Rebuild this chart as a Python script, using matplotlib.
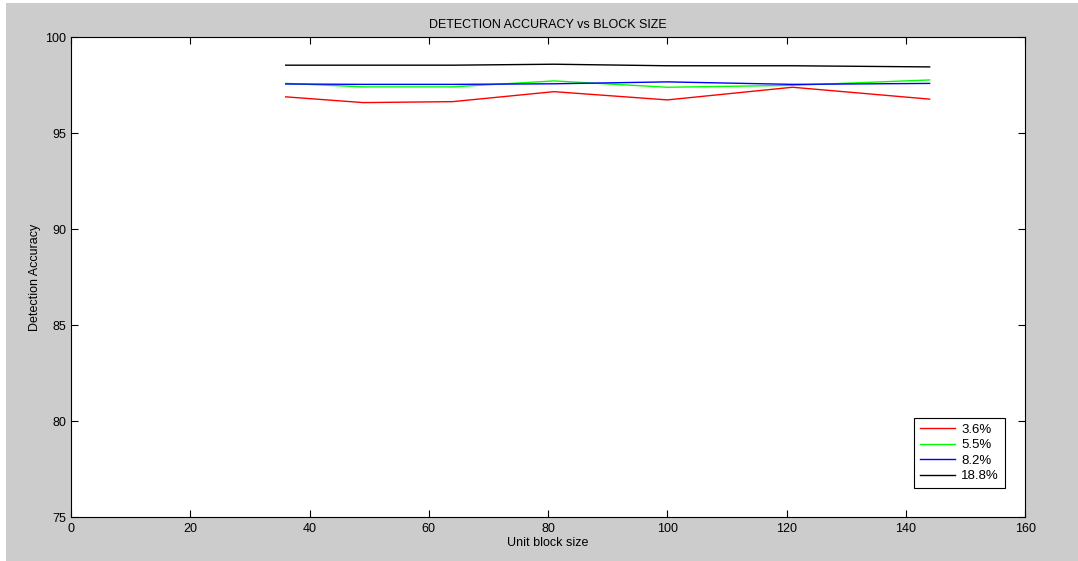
#!/usr/bin/env python3
"""Detection accuracy against unit block size for four embedding rates."""

import matplotlib
matplotlib.use("Agg")
import matplotlib.pyplot as plt
from matplotlib.patches import Rectangle

# Unit block sizes (square blocks: 6x6 ... 12x12)
block_size = [36, 49, 64, 81, 100, 121, 144]

# Detection accuracy (%) for each embedding rate
acc_3_6 = [96.90, 96.60, 96.65, 97.17, 96.74, 97.40, 96.78]
acc_5_5 = [97.60, 97.42, 97.42, 97.73, 97.40, 97.50, 97.78]
acc_8_2 = [97.57, 97.55, 97.55, 97.58, 97.68, 97.55, 97.60]
acc_18_8 = [98.55, 98.55, 98.55, 98.60, 98.52, 98.52, 98.46]

series_labels = ["3.6%", "5.5%", "8.2%", "18.8%"]
series_colors = ["#ff0000", "#00ff00", "#0000ff", "#000000"]

x_ticks = [0, 20, 40, 60, 80, 100, 120, 140, 160]
y_ticks = [75, 80, 85, 90, 95, 100]


def main() -> None:
    plt.rcParams["font.family"] = ["Liberation Sans", "DejaVu Sans"]
    plt.rcParams["font.size"] = 8.5

    fig = plt.figure(figsize=(10.78, 5.61), dpi=100, facecolor="white")
    # grey figure window, thin white margin on the left and top
    fig.patches.append(Rectangle((6 / 1078, -0.01), 1, 1.01 - 3 / 561,
                                 transform=fig.transFigure, facecolor="#cccccc",
                                 edgecolor="none", zorder=-10))
    ax = fig.add_axes([0.0659, 0.0784, 0.885, 0.855])
    ax.set_facecolor("white")

    for ys, lab, col in zip([acc_3_6, acc_5_5, acc_8_2, acc_18_8],
                            series_labels, series_colors):
        ax.plot(block_size, ys, color=col, lw=1.0, label=lab)

    ax.set_xlim(0, 160)
    ax.set_ylim(75, 100)
    ax.set_xticks(x_ticks)
    ax.set_yticks(y_ticks)
    ax.tick_params(direction="in", top=True, right=True, length=5, width=0.8,
                   labelsize=9, colors="black")
    ax.tick_params(axis="x", pad=4)
    for sp in ax.spines.values():
        sp.set_linewidth(0.8)

    ax.set_title("DETECTION ACCURACY vs BLOCK SIZE", fontsize=9, pad=7)
    ax.set_xlabel("Unit block size", fontsize=9, labelpad=2)
    ax.set_ylabel("Detection Accuracy", fontsize=9, labelpad=3)

    leg = ax.legend(loc="lower right", bbox_to_anchor=(0.979, 0.06),
                    borderaxespad=0, fancybox=False, framealpha=1,
                    edgecolor="black", handlelength=2.7, handletextpad=0.45,
                    labelspacing=0.25, borderpad=0.45, fontsize=9.5)
    leg.get_frame().set_linewidth(0.8)

    fig.savefig("out.png", dpi=100, facecolor=fig.get_facecolor())


if __name__ == "__main__":
    main()
